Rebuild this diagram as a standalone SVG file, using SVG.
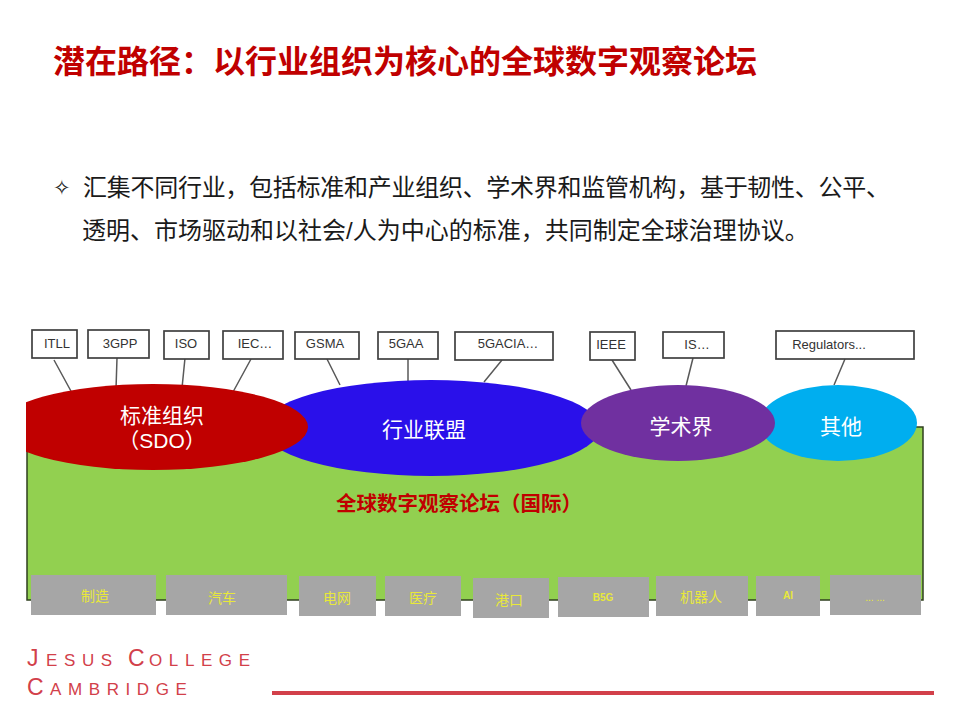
<svg xmlns="http://www.w3.org/2000/svg" width="960" height="720" viewBox="0 0 960 720">
<defs><clipPath id="sdoClip"><rect x="26" y="370" width="300" height="110"/></clipPath></defs>
<style>
text{font-family:"Liberation Sans","Noto Sans CJK SC",sans-serif}
.box{fill:#fff;stroke:#404040;stroke-width:1.7}
.tag{font-size:13px;fill:#333;text-anchor:middle}
.conn{stroke:#595959;stroke-width:1.5;fill:none}
.ell{font-size:21px;fill:#fff;text-anchor:middle}
.sec{fill:#a6a6a6}
.sl{font-size:14px;fill:#e8e83a;text-anchor:middle}
.body{font-size:24px;fill:#1a1a1a}
.jc{fill:#d2404a;letter-spacing:6.6px}
</style>
<rect width="960" height="720" fill="#fff"/>
<text x="53" y="73" font-size="32" font-weight="700" fill="#c00000">潜在路径：以行业组织为核心的全球数字观察论坛</text>
<text x="53" y="195" font-size="21" fill="#1a1a1a">✧</text>
<text x="83" y="196" class="body" textLength="807">汇集不同行业，包括标准和产业组织、学术界和监管机构，基于韧性、公平、</text>
<text x="82" y="239" class="body">透明、市场驱动和以社会/人为中心的标准，共同制定全球治理协议。</text>

<g id="forum">
<rect x="27" y="427" width="896" height="173" fill="#92d050" stroke="#2f3f1f" stroke-width="1.5"/>
<text x="459" y="511" font-size="20.5" font-weight="700" fill="#c00000" text-anchor="middle">全球数字观察论坛（国际）</text>
</g>

<g id="connectors">
<path class="conn" d="M54 360L72 393M117 358L116 389M185 358L182 388M251 359L233 392M327 359L340 385M408 359L408 381M502 360L484 382M612 360L631 390M693 358L686 386M845 359L834 385"/>
</g>

<g id="alliance"><ellipse cx="431" cy="428" rx="169" ry="48" fill="#2a10ea"/><text class="ell" x="424" y="437">行业联盟</text></g>
<g id="sdo"><ellipse cx="153" cy="427" rx="155" ry="43" fill="#c00000" clip-path="url(#sdoClip)"/><text class="ell" x="162" y="423">标准组织</text><text class="ell" x="162" y="448">（SDO）</text></g>
<g id="other"><ellipse cx="838" cy="423" rx="79" ry="38" fill="#00aeef"/><text class="ell" x="841" y="434">其他</text></g>
<g id="academia"><ellipse cx="678" cy="423" rx="97" ry="38" fill="#7030a0"/><text class="ell" x="681" y="434">学术界</text></g>

<g id="n-itll"><rect class="box" x="32" y="330" width="45" height="28"/><text class="tag" x="57" y="348">ITLL</text></g>
<g id="n-3gpp"><rect class="box" x="88" y="330" width="61" height="28"/><text class="tag" x="120" y="348">3GPP</text></g>
<g id="n-iso"><rect class="box" x="164" y="331" width="45" height="28"/><text class="tag" x="186" y="348">ISO</text></g>
<g id="n-iec"><rect class="box" x="223" y="331" width="60" height="28"/><text class="tag" x="255" y="348">IEC…</text></g>
<g id="n-gsma"><rect class="box" x="295" y="332" width="64" height="27"/><text class="tag" x="325" y="348">GSMA</text></g>
<g id="n-5gaa"><rect class="box" x="378" y="332" width="60" height="27"/><text class="tag" x="406" y="348">5GAA</text></g>
<g id="n-5gacia"><rect class="box" x="455" y="332" width="98" height="28"/><text class="tag" x="508" y="348">5GACIA…</text></g>
<g id="n-ieee"><rect class="box" x="590" y="332" width="45" height="28"/><text class="tag" x="611" y="349">IEEE</text></g>
<g id="n-is"><rect class="box" x="663" y="332" width="61" height="26"/><text class="tag" x="697" y="349">IS…</text></g>
<g id="n-reg"><rect class="box" x="776" y="331" width="138" height="28"/><text class="tag" x="829" y="349">Regulators...</text></g>

<g id="s1"><rect class="sec" x="31" y="575" width="125" height="40"/><text class="sl" x="95" y="601">制造</text></g>
<g id="s2"><rect class="sec" x="166" y="575" width="121" height="40"/><text class="sl" x="222" y="603">汽车</text></g>
<g id="s3"><rect class="sec" x="299" y="576" width="77" height="40"/><text class="sl" x="337" y="603">电网</text></g>
<g id="s4"><rect class="sec" x="385" y="576" width="76" height="40"/><text class="sl" x="423" y="603">医疗</text></g>
<g id="s5"><rect class="sec" x="473" y="578" width="76" height="40"/><text class="sl" x="509" y="605">港口</text></g>
<g id="s6"><rect class="sec" x="558" y="577" width="91" height="40"/><text class="sl" x="603" y="601" style="font-size:10px;font-weight:700">B5G</text></g>
<g id="s7"><rect class="sec" x="656" y="576" width="92" height="40"/><text class="sl" x="701" y="602">机器人</text></g>
<g id="s8"><rect class="sec" x="756" y="576" width="64" height="40"/><text class="sl" x="788" y="599" style="font-size:10px;font-weight:700">AI</text></g>
<g id="s9"><rect class="sec" x="830" y="575" width="91" height="40"/><text class="sl" x="875" y="601" style="font-size:10px">... ...</text></g>

<g id="footer">
<text class="jc" x="27" y="666" font-size="23">J</text>
<text class="jc" x="46" y="666" font-size="17">ESUS</text>
<text class="jc" x="128" y="666" font-size="23">C</text>
<text class="jc" x="149" y="666" font-size="17">OLLEGE</text>
<text class="jc" x="27" y="695" font-size="23">C</text>
<text class="jc" x="50" y="695" font-size="17">AMBRIDGE</text>
<rect x="272" y="691" width="662" height="4" fill="#d2404a"/>
</g>
</svg>
